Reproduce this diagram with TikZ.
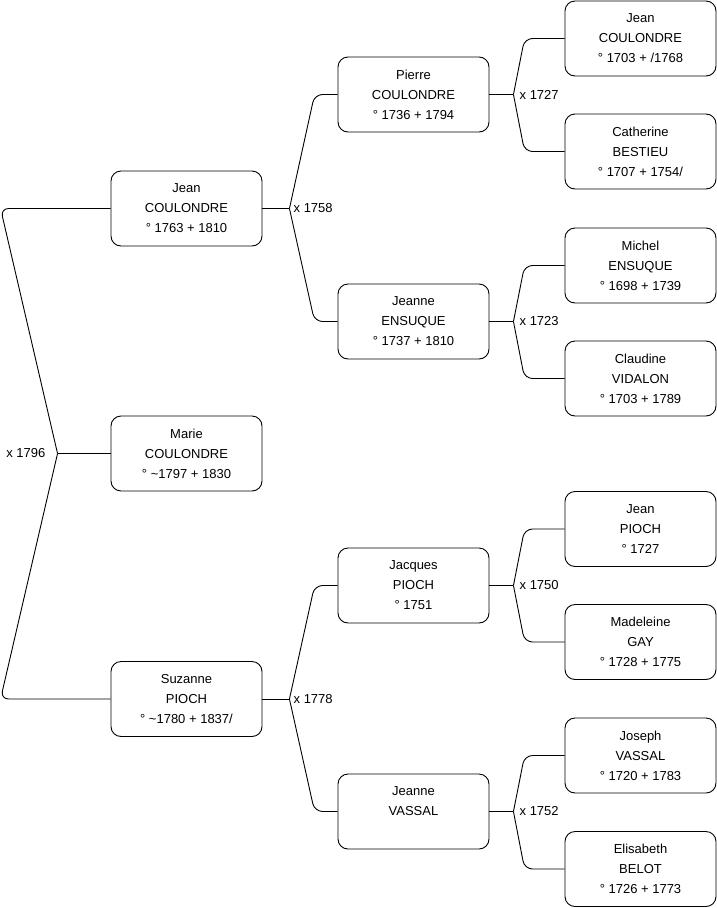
\documentclass[tikz,border=0pt]{standalone}
\usepackage{fontspec}
\setmainfont{Liberation Sans}
\usetikzlibrary{positioning}
\definecolor{treeInk}{RGB}{0,0,0}
\tikzset{
  person/.style={draw=treeInk, line width=0.9pt, rounded corners=10pt, fill=white,
    minimum width=151pt, minimum height=75pt, align=center, font=\fontsize{13}{20}\selectfont},
  link/.style={draw=treeInk, line width=0.9pt, rounded corners=8pt},
  union/.style={inner sep=0pt, font=\fontsize{13}{16}\selectfont}
}

\begin{document}
\begin{tikzpicture}[x=1pt,y=-1pt]
    \useasboundingbox (0,0) rectangle (716,908);
    % first generation
    \node[person] (jean) at (186.5,208.5) {Jean\\COULONDRE\\° 1763 + 1810};
    \node[person] (marie) at (186.5,453.5) {Marie\\COULONDRE\\° \textasciitilde1797 + 1830};
    \node[person] (suzanne) at (186.5,699) {Suzanne\\PIOCH\\° \textasciitilde1780 + 1837/};
    % second generation
    \node[person] (pierre) at (413.5,94.5) {Pierre\\COULONDRE\\° 1736 + 1794};
    \node[person] (jeanneE) at (413.5,321.5) {Jeanne\\ENSUQUE\\° 1737 + 1810};
    \node[person] (jacques) at (413.5,585.5) {Jacques\\PIOCH\\° 1751};
    \node[person] (jeanneV) at (413.5,811.5) {Jeanne\\VASSAL\\\mbox{}};
    % third generation
    \node[person] (jeanC) at (640.5,38.5) {Jean\\COULONDRE\\° 1703 + /1768};
    \node[person] (catherine) at (640.5,151.5) {Catherine\\BESTIEU\\° 1707 + 1754/};
    \node[person] (michel) at (640.5,265.5) {Michel\\ENSUQUE\\° 1698 + 1739};
    \node[person] (claudine) at (640.5,378.5) {Claudine\\VIDALON\\° 1703 + 1789};
    \node[person] (jeanP) at (640.5,529) {Jean\\PIOCH\\° 1727};
    \node[person] (madeleine) at (640.5,642) {Madeleine\\GAY\\° 1728 + 1775};
    \node[person] (joseph) at (640.5,755.5) {Joseph\\VASSAL\\° 1720 + 1783};
    \node[person] (elisabeth) at (640.5,869) {Elisabeth\\BELOT\\° 1726 + 1773};

    % marriage x 1796
    \coordinate (m1796) at ([xshift=-53]marie.west);
    \draw[link] (marie.west) -- (m1796);
    \draw[link] (m1796) -- ([xshift=-110]jean.west) -- (jean.west);
    \draw[link] (m1796) -- ([xshift=-110]suzanne.west) -- (suzanne.west);
    \node[union, anchor=east] (l1796) at ([xshift=-12]m1796) {x 1796};

    % marriage x 1758
    \coordinate (m1758) at ([xshift=27]jean.east);
    \draw[link] (jean.east) -- (m1758);
    \draw[link] (m1758) -- ([xshift=-23]pierre.west) -- (pierre.west);
    \draw[link] (m1758) -- ([xshift=-23]jeanneE.west) -- (jeanneE.west);
    \node[union, anchor=west] (l1758) at ([xshift=4]m1758) {x 1758};

    % marriage x 1778
    \coordinate (m1778) at ([xshift=27]suzanne.east);
    \draw[link] (suzanne.east) -- (m1778);
    \draw[link] (m1778) -- ([xshift=-23]jacques.west) -- (jacques.west);
    \draw[link] (m1778) -- ([xshift=-23]jeanneV.west) -- (jeanneV.west);
    \node[union, anchor=west] (l1778) at ([xshift=4]m1778) {x 1778};

    % marriage x 1727
    \coordinate (m1727) at ([xshift=24]pierre.east);
    \draw[link] (pierre.east) -- (m1727);
    \draw[link] (m1727) -- ([xshift=-40]jeanC.west) -- (jeanC.west);
    \draw[link] (m1727) -- ([xshift=-40]catherine.west) -- (catherine.west);
    \node[union, anchor=west] (l1727) at ([xshift=6]m1727) {x 1727};

    % marriage x 1723
    \coordinate (m1723) at ([xshift=24]jeanneE.east);
    \draw[link] (jeanneE.east) -- (m1723);
    \draw[link] (m1723) -- ([xshift=-40]michel.west) -- (michel.west);
    \draw[link] (m1723) -- ([xshift=-40]claudine.west) -- (claudine.west);
    \node[union, anchor=west] (l1723) at ([xshift=6]m1723) {x 1723};

    % marriage x 1750
    \coordinate (m1750) at ([xshift=24]jacques.east);
    \draw[link] (jacques.east) -- (m1750);
    \draw[link] (m1750) -- ([xshift=-40]jeanP.west) -- (jeanP.west);
    \draw[link] (m1750) -- ([xshift=-40]madeleine.west) -- (madeleine.west);
    \node[union, anchor=west] (l1750) at ([xshift=6]m1750) {x 1750};

    % marriage x 1752
    \coordinate (m1752) at ([xshift=24]jeanneV.east);
    \draw[link] (jeanneV.east) -- (m1752);
    \draw[link] (m1752) -- ([xshift=-40]joseph.west) -- (joseph.west);
    \draw[link] (m1752) -- ([xshift=-40]elisabeth.west) -- (elisabeth.west);
    \node[union, anchor=west] (l1752) at ([xshift=6]m1752) {x 1752};
\end{tikzpicture}
\end{document}
